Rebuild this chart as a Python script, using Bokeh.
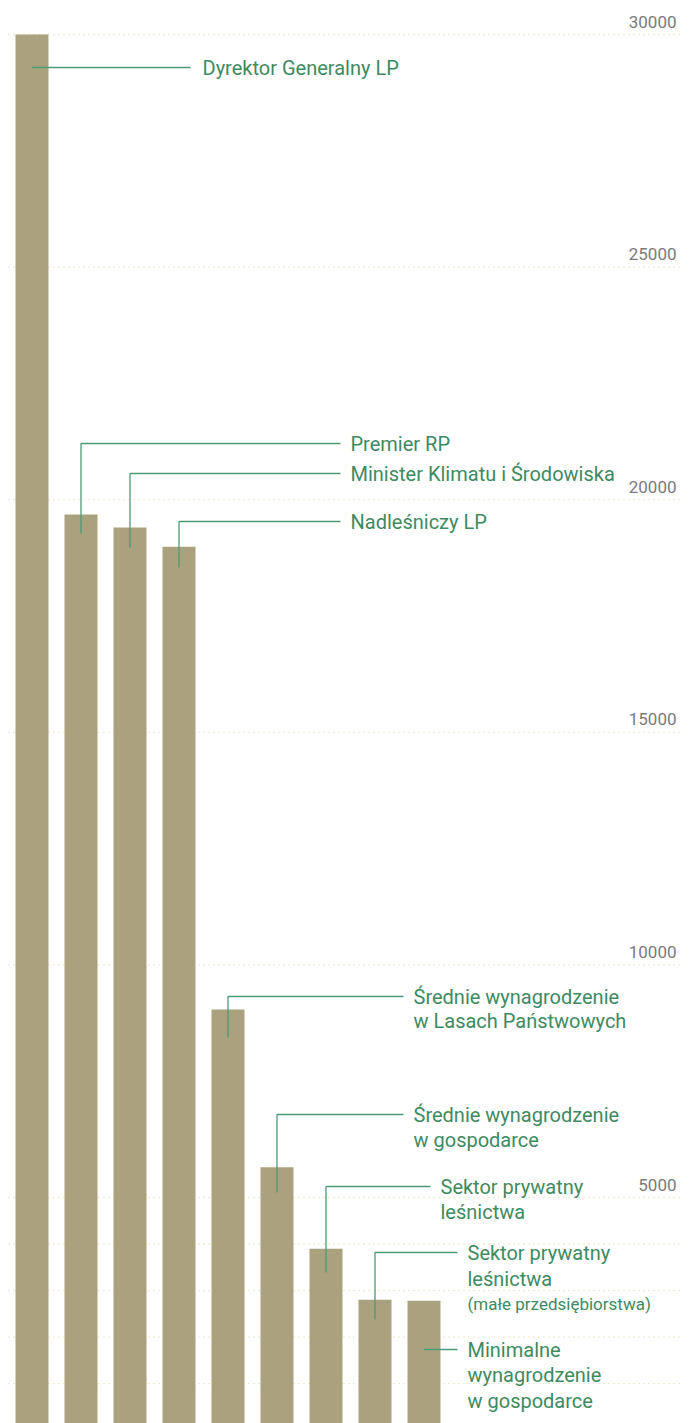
from bokeh.plotting import figure
from bokeh.models import Range1d, ColumnDataSource
from bokeh.core.properties import value
from bokeh.embed import file_html
from bokeh.resources import INLINE

# ---- data ----
categories = [
    "Dyrektor Generalny LP",
    "Premier RP",
    "Minister Klimatu i Środowiska",
    "Nadleśniczy LP",
    "Średnie wynagrodzenie w Lasach Państwowych",
    "Średnie wynagrodzenie w gospodarce",
    "Sektor prywatny leśnictwa",
    "Sektor prywatny leśnictwa (małe przedsiębiorstwa)",
    "Minimalne wynagrodzenie w gospodarce",
]
salaries = [30000, 19680, 19400, 18990, 9040, 5650, 3900, 2800, 2780]
label_lines = [
    ["Dyrektor Generalny LP"],
    ["Premier RP"],
    ["Minister Klimatu i Środowiska"],
    ["Nadleśniczy LP"],
    ["Średnie wynagrodzenie", "w Lasach Państwowych"],
    ["Średnie wynagrodzenie", "w gospodarce"],
    ["Sektor prywatny", "leśnictwa"],
    ["Sektor prywatny", "leśnictwa"],
    ["Minimalne", "wynagrodzenie", "w gospodarce"],
]
sub_notes = {7: "(małe przedsiębiorstwa)"}
grid_values = [1000, 2000, 3000, 4000, 5000, 10000, 15000, 20000, 25000, 30000]
tick_labels = ["5000", "10000", "15000", "20000", "25000", "30000"]
tick_values = [5000, 10000, 15000, 20000, 25000, 30000]

# ---- layout ----
W, H = 691, 1423
PPU = 232.6 / 5000.0          # px per unit
ZERO_Y = 1429.6               # pixel y of value 0 (from top of figure)
BAR_STEP = 49.0
FIRST_CENTER = 31.5           # pixel x of first bar centre

def py(pix_y):
    return (ZERO_Y - pix_y) / PPU

def px(pix_x):
    return (pix_x - FIRST_CENTER) / BAR_STEP

# per-bar leader layout: (vertical start y or None, elbow y, line end x, text x)
leaders = [
    (None, 67, 190, 202),
    (533, 443, 340, 350),
    (547, 473, 340, 350),
    (567, 521, 340, 350),
    (1037, 996, 403, 413),
    (1192, 1114, 403, 413),
    (1272, 1186, 430, 440),
    (1319, 1252, 457, 467),
    (None, 1349, 457, 467),
]
line_gap = [0, 0, 0, 0, 24.5, 25, 25, 26, 25.5]

BAR_COLOR = "#aaa27e"
GREEN = "#3e8a62"
LEADER = "#4f9a76"
GRID = "#e2dbac"
FONT = value("Roboto")

p = figure(width=W, height=H, output_backend="svg", toolbar_location=None,
           x_range=Range1d(px(0), px(W)),
           y_range=Range1d(py(H), py(0)),
           min_border=0, min_border_left=0, min_border_right=0,
           min_border_top=0, min_border_bottom=0)
p.outline_line_color = None
p.background_fill_color = "white"
p.border_fill_color = "white"
p.xaxis.visible = False
p.yaxis.visible = False
p.grid.visible = False

# dotted gridlines
n = len(grid_values)
p.segment(x0=[px(8)] * n, x1=[px(683)] * n, y0=grid_values, y1=grid_values,
          line_color=GRID, line_dash="1 4", line_width=1.3)

src = ColumnDataSource(dict(x=list(range(len(categories))), top=salaries, name=categories))
p.vbar(x="x", top="top", bottom=0, width=33 / BAR_STEP, source=src,
       fill_color=BAR_COLOR, line_color=None)

# leader lines and labels
for i, (vstart, elbow, lend, tx) in enumerate(leaders):
    xb = i
    if vstart is None:
        p.line([xb, px(lend)], [py(elbow), py(elbow)], line_color=LEADER,
               line_width=1.3)
    else:
        p.line([xb, xb, px(lend)], [py(vstart), py(elbow), py(elbow)],
               line_color=LEADER, line_width=1.3)
    for k, t in enumerate(label_lines[i]):
        p.text(x=[px(tx)], y=[py(elbow + k * line_gap[i])], text=[t],
               text_font=FONT, text_font_size="20px",
               text_color=GREEN, text_baseline="middle", text_align="left")
    if i in sub_notes:
        k = len(label_lines[i])
        p.text(x=[px(tx)], y=[py(elbow + k * line_gap[i] - 1)], text=[sub_notes[i]],
               text_font=FONT, text_font_size="17px",
               text_color=GREEN, text_baseline="middle", text_align="left")

# tick labels (right, above gridlines)
p.text(x=[px(676)] * len(tick_values), y=[v + 13 / PPU for v in tick_values],
       text=tick_labels, text_font=FONT, text_font_size="17px",
       text_color="#7a7a7a", text_align="right", text_baseline="middle")

open("out.html", "w").write(file_html(p, INLINE))
